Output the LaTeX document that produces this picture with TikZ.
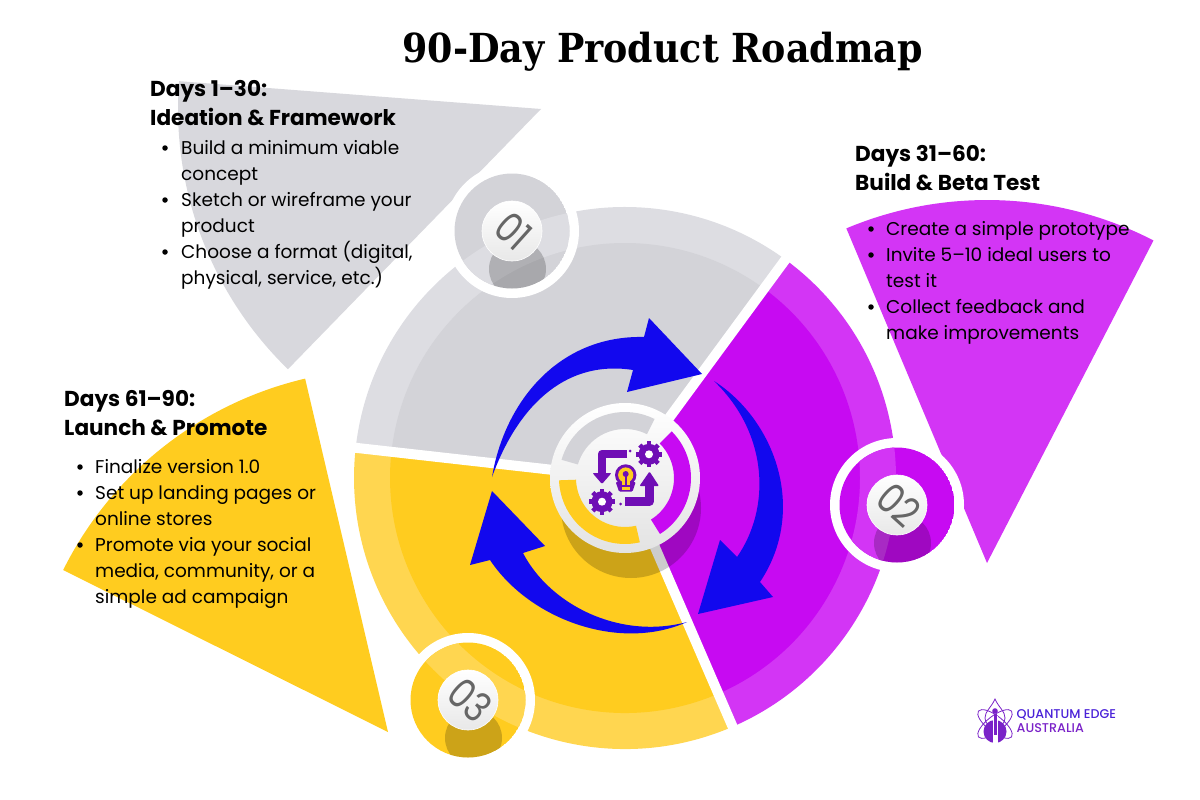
\documentclass[tikz,border=0pt]{standalone}
\usepackage{fontspec}
\setmainfont{Poppins}
\newfontfamily\titlefont[FakeStretch=0.91]{DejaVu Serif}
\newfontfamily\knobfont[FakeStretch=0.84]{Poppins}
\newfontfamily\logofont{Poppins Medium}
\definecolor{fangray}{HTML}{D8D8DD}
\definecolor{graylt}{HTML}{DDDDE2}
\definecolor{graydk}{HTML}{D3D3D8}
\definecolor{purplelt}{HTML}{D335F5}
\definecolor{purpledk}{HTML}{C70AF2}
\definecolor{yellowlt}{HTML}{FFD650}
\definecolor{yellowdk}{HTML}{FFCC1F}
\definecolor{arrowblue}{HTML}{1208EE}
\definecolor{iconpurple}{HTML}{6F0EB5}
\definecolor{logoblue}{HTML}{4A22D8}
\definecolor{logopurple}{HTML}{7A22C8}
\tikzset{
	headtext/.style={anchor=base west,inner sep=0pt,font=\fontsize{21.6}{29}\selectfont\bfseries,align=left},
	itemtext/.style={anchor=base west,inner sep=0pt,font=\fontsize{18.5}{26}\selectfont,align=left},
	itemdot/.style={circle,fill=black,inner sep=0pt,minimum size=5.5pt},
	knobdisc/.style={circle,minimum size=60pt,inner sep=0pt,top color=white,bottom color=black!9,draw=white,line width=.6pt},
	knoblabel/.style={inner sep=0pt,rotate=-42,text=black!60,font=\fontsize{41}{41}\knobfont\selectfont},
	logotext/.style={anchor=base west,inner sep=0pt,font=\fontsize{12.7}{12.7}\logofont\selectfont},
	blade/.style={fill=arrowblue},
	icon/.style={fill=iconpurple,rounded corners=1pt},
	iconline/.style={draw=iconpurple,line width=8.5pt,line join=round},
	gap/.style={draw=white,line width=10pt},
	shadow/.style={fill=black,fill opacity=.2},
}
\begin{document}
\begin{tikzpicture}[x=1pt,y=-1pt]
	\useasboundingbox (0,0) rectangle (1200,800);
	\def\ringr{271};
	\def\ringi{235};
	\def\fanr{363};
	\coordinate (hub) at (625,478);
	% fans behind the text
	\foreach \fx/\fy/\fa/\fb/\co in {541/109/134.2/184.4/fangray, 987/563/247.2/297.3/purplelt, 388/732/206.5/256.8/yellowdk}
		\fill[\co] (\fx,\fy) -- ++(\fa:\fanr) arc[start angle=\fa,end angle=\fb,radius=\fanr] -- cycle;
	% wheel
	\foreach \a/\b/\cl/\cd in {-53.7/66.6/purplelt/purpledk, 66.6/186.4/yellowlt/yellowdk, 186.4/306.3/graylt/graydk} {
		\fill[\cl] (hub) -- ++(\a:\ringr) arc[start angle=\a,end angle=\b,radius=\ringr] -- cycle;
		\fill[\cd] (hub) -- ++(\a:\ringi) arc[start angle=\a,end angle=\b,radius=\ringi] -- cycle;
	}
	\path (hub) ++(-53.7:285) coordinate (sepa);
	\path (hub) ++(66.6:285) coordinate (sepb);
	\path (hub) ++(186.4:285) coordinate (sepc);
	\draw[gap] (hub) -- (sepa);
	\draw[gap] (hub) -- (sepb);
	\draw[gap] (hub) -- (sepc);
	% numbered discs
	\foreach \nx/\ny/\cl/\cd/\lab in {512/231/graylt/graydk/01, 897/505/purplelt/purpledk/02, 468/700/yellowlt/yellowdk/03} {
		\fill[white] (\nx,\ny) circle [radius=67];
		\begin{scope}
			\clip (\nx,\ny) circle [radius=57.5];
			\fill[\cd] (\nx,\ny) circle [radius=57.5];
			\fill[\cl,even odd rule] (hub) circle [radius=\ringr] (hub) circle [radius=\ringi];
			\fill[shadow] (\nx+5.5,\ny+38) circle [radius=28.5];
		\end{scope}
		\node[knobdisc] (knob\lab) at (\nx,\ny) {};
		\node[knoblabel] (num\lab) at (\nx+2,\ny) {\lab};
	}
	% blue arrows
	\fill[blade] (492,477) .. controls (505,400) and (560,335) .. (644,337) -- (649,318) -- (702,374) -- (627,392) -- (633,370) .. controls (570,360) and (520,400) .. (492,477) -- cycle;
	\fill[blade] (714,381) .. controls (775,420) and (808,510) .. (760,582) -- (773,597) -- (698,614) -- (720,540) -- (737,557) .. controls (770,510) and (770,435) .. (714,381) -- cycle;
	\fill[blade] (687,622) .. controls (620,652) and (530,620) .. (490,560) -- (470,565) -- (492,491) -- (545,546) -- (523,553) .. controls (550,605) and (620,640) .. (687,622) -- cycle;
	% centre
	\fill[shadow] (631,508) circle [radius=70];
	\shade[top color=white,bottom color=black!11] (hub) circle [radius=75];
	\foreach \a/\b/\co in {-45/58/purpledk, 77/178/yellowdk, 196/296.6/graydk}
		\fill[\co] (hub) ++(\a:66) arc[start angle=\a,end angle=\b,radius=66] -- ++(\b:-17) arc[start angle=\b,end angle=\a,radius=49] -- cycle;
	% icon
	\draw[iconline] (627,454) -- (602,454) -- (602,475);
	\fill[icon] (592.5,473) -- (611.5,473) -- (602,484) -- cycle;
	\fill[icon] (630,451) circle [radius=1.5];
	\draw[iconline] (625,501.5) -- (649.5,501.5) -- (649.5,482);
	\fill[icon] (639.5,486) -- (659,486) -- (649.5,471.5) -- cycle;
	\fill[icon] (620.7,504) circle [radius=1.5];
	\foreach \gx/\gy in {649/454.3, 602/501.7} {
		\foreach \t in {0,45,...,315}
			\draw[iconpurple,line width=4.5pt] (\gx,\gy) ++(\t:8) -- ++(\t:5);
		\fill[icon] (\gx,\gy) circle [radius=10.5];
		\fill[white] (\gx,\gy) circle [radius=4];
	}
	\fill[icon] (615.7,482) -- (635.7,482) -- (632.5,491.5) -- (619,491.5) -- cycle;
	\fill[icon] (625.7,475) circle [radius=10.7];
	\fill[yellowdk] (625.7,475) circle [radius=7.6];
	\fill[yellowdk] (621.5,480) rectangle (630,489.5);
	\fill[icon] (625.7,474) circle [radius=3];
	\fill[iconpurple] (624.7,474) rectangle (626.7,485);
	\fill[iconpurple] (620,485) rectangle (631.5,486.5);
	% title
	\node[anchor=base,inner sep=0pt,font=\fontsize{40}{40}\titlefont\bfseries\selectfont] (title) at (662.5,63) {90-Day Product Roadmap};
	% first panel
	\node[headtext] (headone) at (150,96) {Days 1--30:};
	\node[headtext] (subone) at (150,125) {Ideation \& Framework};
	\node[itemtext] (itemonea) at (181,180.5) {Build a minimum viable\\concept};
	\node[itemtext] (itemoneb) at (181,232.5) {Sketch or wireframe your\\product};
	\node[itemtext] (itemonec) at (181,284.5) {Choose a format (digital,\\physical, service, etc.)};
	\node[itemdot] (dotonea) at (165,148) {};
	\node[itemdot] (dotoneb) at (165,200) {};
	\node[itemdot] (dotonec) at (165,252) {};
	% second panel
	\node[headtext] (headtwo) at (855,161) {Days 31--60:};
	\node[headtext] (subtwo) at (855,190) {Build \& Beta Test};
	\node[itemtext] (itemtwoa) at (886,235) {Create a simple prototype};
	\node[itemtext] (itemtwob) at (886,287) {Invite 5--10 ideal users to\\test it};
	\node[itemtext] (itemtwoc) at (886,339) {Collect feedback and\\make improvements};
	\node[itemdot] (dottwoa) at (871,229) {};
	\node[itemdot] (dottwob) at (871,255) {};
	\node[itemdot] (dottwoc) at (871,307) {};
	% third panel
	\node[headtext] (headthree) at (64,406) {Days 61--90:};
	\node[headtext] (subthree) at (64,435) {Launch \& Promote};
	\node[itemtext] (itemthreea) at (95,473) {Finalize version 1.0};
	\node[itemtext] (itemthreeb) at (95,525) {Set up landing pages or\\online stores};
	\node[itemtext] (itemthreec) at (95,603) {Promote via your social\\media, community, or a\\simple ad campaign};
	\node[itemdot] (dotthreea) at (80,467) {};
	\node[itemdot] (dotthreeb) at (80,493) {};
	\node[itemdot] (dotthreec) at (80,545) {};
	% logo
	\coordinate (lg) at (995,724);
	\draw[logopurple,line width=.8pt,rotate around={38:(lg)}] (lg) ellipse [x radius=21,y radius=8];
	\draw[logopurple,line width=.8pt,rotate around={-38:(lg)}] (lg) ellipse [x radius=21,y radius=8];
	\draw[logopurple,line width=.8pt] (995,699) .. controls (991,708) and (985,711) .. (985,718) .. controls (985,724) and (990,727) .. (995,727) .. controls (1000,727) and (1005,724) .. (1005,718) .. controls (1005,711) and (999,708) .. (995,699) -- cycle;
	\fill[logopurple] (995,731.5) circle [radius=11.5];
	\fill[white] (992.5,716) rectangle (997.5,744);
	\fill[logopurple] (995,711) circle [radius=2.8];
	\fill[logopurple] (993.5,714) rectangle (996.5,735);
	\node[logotext,text=logoblue] (logoa) at (1016.5,718) {QUANTUM EDGE};
	\node[logotext,text=logopurple] (logob) at (1016.5,732) {AUSTRALIA};
\end{tikzpicture}
\end{document}
